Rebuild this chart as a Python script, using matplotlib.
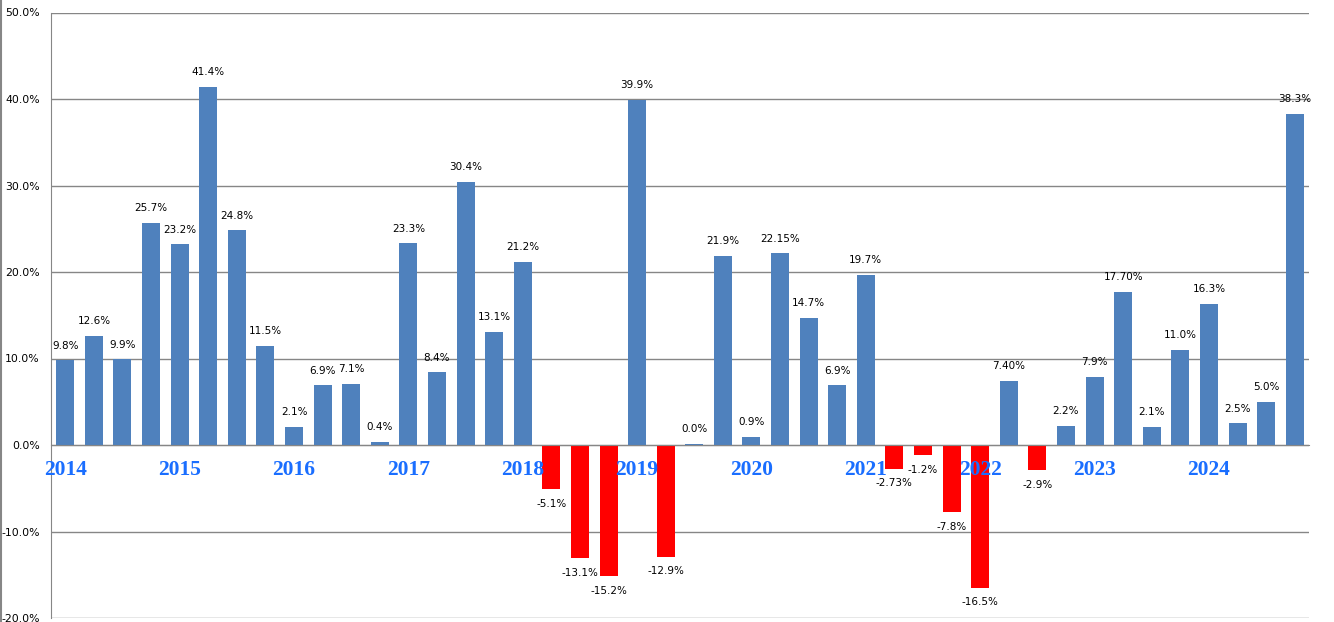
import matplotlib
matplotlib.use("Agg")
import matplotlib.pyplot as plt
from matplotlib.lines import Line2D
from matplotlib.ticker import FuncFormatter

# quarterly returns, 2014 Q1 .. 2024 Q4
years = ['2014', '2015', '2016', '2017', '2018', '2019',
         '2020', '2021', '2022', '2023', '2024']
values = [9.8, 12.6, 9.9, 25.7,
          23.2, 41.4, 24.8, 11.5,
          2.1, 6.9, 7.1, 0.4,
          23.3, 8.4, 30.4, 13.1,
          21.2, -5.1, -13.1, -15.2,
          39.9, -12.9, 0.15, 21.9,
          0.9, 22.15, 14.7, 6.9,
          19.7, -2.73, -1.2, -7.8,
          -16.5, 7.40, -2.9, 2.2,
          7.9, 17.70, 2.1, 11.0,
          16.3, 2.5, 5.0, 38.3]
labels = ['9.8%', '12.6%', '9.9%', '25.7%',
          '23.2%', '41.4%', '24.8%', '11.5%',
          '2.1%', '6.9%', '7.1%', '0.4%',
          '23.3%', '8.4%', '30.4%', '13.1%',
          '21.2%', '-5.1%', '-13.1%', '-15.2%',
          '39.9%', '-12.9%', '0.0%', '21.9%',
          '0.9%', '22.15%', '14.7%', '6.9%',
          '19.7%', '-2.73%', '-1.2%', '-7.8%',
          '-16.5%', '7.40%', '-2.9%', '2.2%',
          '7.9%', '17.70%', '2.1%', '11.0%',
          '16.3%', '2.5%', '5.0%', '38.3%']

blue = '#4F81BD'
red = '#FF0000'
grey = '#868686'
year_color = '#1A6EFF'

fig = plt.figure(figsize=(13.34, 6.22), dpi=100)
ax = fig.add_axes([51/1334, 4/622, 1258/1334, 605.5/622])

# spine position first, it resets the ticks
ax.spines['top'].set_visible(False)
ax.spines['right'].set_visible(False)
ax.spines['left'].set_color(grey)
ax.spines['bottom'].set_position(('data', 0))
ax.spines['bottom'].set_color(grey)
ax.spines['bottom'].set_zorder(4)

xs = list(range(len(values)))
colors = [blue if v >= 0 else red for v in values]
ax.bar(xs, values, width=0.63, color=colors, zorder=3)

for x, v, lab in zip(xs, values, labels):
    if v >= 0:
        ax.annotate(lab, (x, v), xytext=(0, 7), textcoords='offset points',
                    ha='center', va='bottom', fontsize=7.5)
    else:
        ax.annotate(lab, (x, v), xytext=(0, -7), textcoords='offset points',
                    ha='center', va='top', fontsize=7.5)

# year labels sit under the zero line, on top of the bars
for i, yr in enumerate(years):
    ax.annotate(yr, (i * 4, 0), xytext=(0, -10.5), textcoords='offset points',
                ha='center', va='top', family='Liberation Serif',
                fontweight='bold', fontsize=15.5, color=year_color, zorder=5)

ax.set_xlim(-0.5, len(values) - 0.5)
ax.set_ylim(-20, 50)
ax.set_yticks(range(-20, 51, 10))
ax.yaxis.set_major_formatter(FuncFormatter(lambda v, p: '{:.1f}%'.format(v)))
ax.grid(axis='y', color=grey, linewidth=1, zorder=0)
ax.set_axisbelow(True)

ax.set_xticks([])
ax.tick_params(axis='y', length=0, pad=8, labelsize=7.8)

fig.add_artist(Line2D([0.0005, 0.0005], [0, 1], color=grey, linewidth=1.5,
                      transform=fig.transFigure))

fig.savefig('out.png', dpi=100)
